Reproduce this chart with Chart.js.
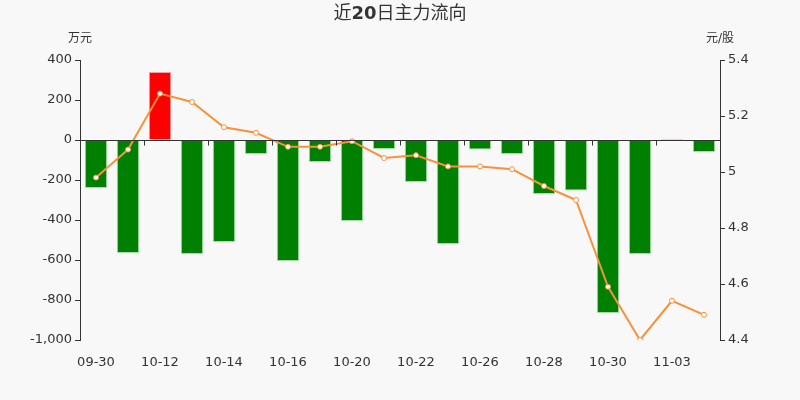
<!DOCTYPE html>
<html>
<head>
<meta charset="utf-8">
<script src="https://cdn.jsdelivr.net/npm/chart.js@4/dist/chart.umd.min.js"></script>
<style>
  html, body { margin: 0; padding: 0; background: #f8f8f8; }
  #wrap { width: 800px; height: 400px; }
</style>
</head>
<body>
<div id="wrap"><canvas id="flowChart" width="800" height="400"></canvas></div>
<script>
const days = ['09-30', '10-09', '10-12', '10-13', '10-14', '10-15', '10-16', '10-19', '10-20', '10-21',
              '10-22', '10-23', '10-26', '10-27', '10-28', '10-29', '10-30', '11-02', '11-03', '11-04'];
// main net inflow, 万元
const flow = [-240, -565, 340, -570, -510, -70, -605, -110, -405, -45,
              -210, -520, -48, -70, -270, -252, -865, -570, 6, -60];
// closing price, 元/股
const price = [4.98, 5.08, 5.28, 5.25, 5.16, 5.14, 5.09, 5.09, 5.11, 5.05,
               5.06, 5.02, 5.02, 5.01, 4.95, 4.90, 4.59, 4.40, 4.54, 4.49];
const flowTicks = [400, 200, 0, -200, -400, -600, -800, -1000];
const priceTicks = [5.4, 5.2, 5.0, 4.8, 4.6, 4.4];

const textColor = '#333';
const fontFamily = '"DejaVu Sans", "Noto Sans CJK SC", sans-serif';

const decorations = {
  id: 'decorations',
  beforeDraw(chart) {
    const { ctx } = chart;
    ctx.save();
    ctx.fillStyle = '#f8f8f8';
    ctx.fillRect(0, 0, chart.width, chart.height);
    ctx.restore();
  },
  afterDatasetsDraw(chart) {
    const { ctx, scales } = chart;
    const x = scales.x, y = scales.y;
    const zero = Math.round(y.getPixelForValue(0)) + 0.5;
    ctx.save();
    // zero line with ticks between every two days
    ctx.strokeStyle = textColor;
    ctx.lineWidth = 1;
    ctx.beginPath();
    ctx.moveTo(x.left, zero);
    ctx.lineTo(x.right, zero);
    const step = (x.right - x.left) / days.length;
    for (let i = 2; i < days.length; i += 2) {
      const px = Math.round(x.left + step * i) + 0.5;
      ctx.moveTo(px, zero);
      ctx.lineTo(px, zero + 5);
    }
    ctx.stroke();
    ctx.restore();
  },
  afterDraw(chart) {
    const { ctx, chartArea } = chart;
    ctx.save();
    ctx.fillStyle = textColor;
    ctx.textBaseline = 'middle';
    // title, the number is bold
    const parts = [['近', 'normal'], ['20', 'bold'], ['日主力流向', 'normal']];
    let total = 0;
    parts.forEach(([t, w]) => { ctx.font = w + ' 18px ' + fontFamily; total += ctx.measureText(t).width; });
    let tx = 400 - total / 2;
    ctx.textAlign = 'left';
    parts.forEach(([t, w]) => {
      ctx.font = w + ' 18px ' + fontFamily;
      ctx.fillText(t, tx, 14);
      tx += ctx.measureText(t).width;
    });
    // axis units
    ctx.font = '12px ' + fontFamily;
    ctx.textAlign = 'center';
    ctx.fillText('万元', chartArea.left, 39);
    ctx.fillText('元/股', chartArea.right, 39);
    ctx.restore();
  }
};

new Chart('flowChart', {
  data: {
    labels: days,
    datasets: [
      {
        type: 'line',
        label: '股价',
        data: price,
        yAxisID: 'y1',
        borderColor: '#f7923b',
        borderWidth: 2,
        pointRadius: 2.5,
        pointBorderWidth: 1,
        pointBackgroundColor: '#fff',
        pointBorderColor: '#f7923b',
        tension: 0,
        order: 0
      },
      {
        type: 'bar',
        label: '主力流向',
        data: flow,
        yAxisID: 'y',
        backgroundColor: flow.map(v => v >= 0 ? '#ff0000' : '#008000'),
        borderColor: flow.map(v => v >= 0 ? '#f5a0a0' : '#a8dca8'),
        borderWidth: 1,
        barPercentage: 0.7,
        categoryPercentage: 1,
        order: 1
      }
    ]
  },
  options: {
    responsive: false,
    animation: false,
    layout: { padding: { top: 60, left: 0, right: 0, bottom: 0 } },
    plugins: { legend: { display: false }, tooltip: { enabled: false } },
    scales: {
      x: {
        grid: { display: false },
        border: { display: false },
        ticks: {
          autoSkip: false,
          maxRotation: 0,
          padding: 7,
          color: textColor,
          font: { size: 13, family: fontFamily },
          callback: (v, i) => i % 2 === 0 ? days[i] : ''
        },
        afterFit: s => { s.height = 60; }
      },
      y: {
        position: 'left',
        min: -1000,
        max: 400,
        afterBuildTicks: s => { s.ticks = flowTicks.map(v => ({ value: v })); },
        grid: { drawOnChartArea: false, tickLength: 5, color: textColor },
        border: { display: true, color: textColor },
        ticks: {
          color: textColor,
          padding: 3,
          font: { size: 13, family: fontFamily },
          callback: v => v.toLocaleString('en-US')
        },
        afterFit: s => { s.width = 80; }
      },
      y1: {
        position: 'right',
        min: 4.4,
        max: 5.4,
        afterBuildTicks: s => { s.ticks = priceTicks.map(v => ({ value: v })); },
        grid: { drawOnChartArea: false, tickLength: 5, color: textColor },
        border: { display: true, color: textColor },
        ticks: {
          color: textColor,
          padding: 3,
          font: { size: 13, family: fontFamily },
          callback: v => String(Number(v.toFixed(1)))
        },
        afterFit: s => { s.width = 80; }
      }
    }
  },
  plugins: [decorations]
});
</script>
</body>
</html>
